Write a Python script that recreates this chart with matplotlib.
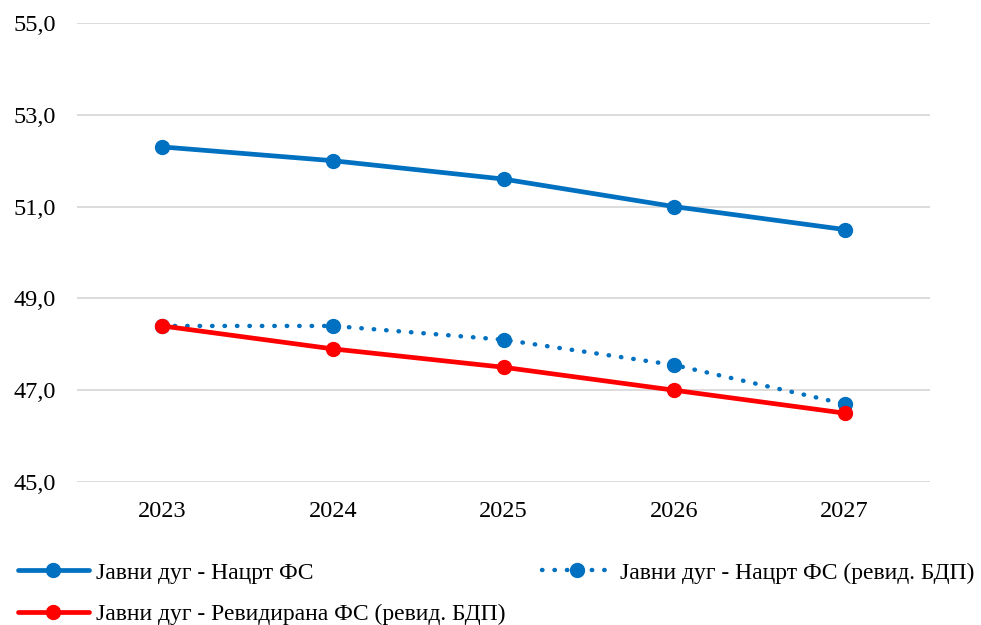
import matplotlib.pyplot as plt
from matplotlib.ticker import FuncFormatter

plt.rcParams['font.family'] = ['Liberation Serif', 'DejaVu Serif']

years = ["2023", "2024", "2025", "2026", "2027"]
debt_draft = [52.3, 52.0, 51.6, 51.0, 50.5]
debt_draft_rev = [48.4, 48.4, 48.1, 47.55, 46.7]
debt_revised = [48.4, 47.9, 47.5, 47.0, 46.5]

labels = [
    "Јавни дуг - Нацрт ФС",
    "Јавни дуг - Нацрт ФС (ревид. БДП)",
    "Јавни дуг - Ревидирана ФС (ревид. БДП)",
]

blue = "#0070C0"
red = "#FF0000"

fig = plt.figure(figsize=(9.81, 6.25), dpi=100)
ax = fig.add_axes([77 / 981, 1 - 482 / 625, 853 / 981, 459 / 625])

x = range(len(years))
l1, = ax.plot(x, debt_draft, color=blue, lw=3.4, marker="o", ms=10,
              solid_capstyle="round", label=labels[0], zorder=3)
l2, = ax.plot(x, debt_draft_rev, color=blue, lw=3.2, marker="o", ms=10,
              linestyle=(0, (0.1, 2.7)), dash_capstyle="round",
              label=labels[1], zorder=3)
l3, = ax.plot(x, debt_revised, color=red, lw=3.4, marker="o", ms=10,
              solid_capstyle="round", label=labels[2], zorder=4)

ax.set_xlim(-0.5, len(years) - 0.5)
ax.set_ylim(45, 55)
ax.set_yticks([45, 47, 49, 51, 53, 55])
ax.yaxis.set_major_formatter(FuncFormatter(lambda v, p: f"{v:.1f}".replace(".", ",")))
ax.set_xticks(list(x))
ax.set_xticklabels(years)
ax.grid(axis="y", color="#D9D9D9", lw=1.3)
ax.set_axisbelow(True)
for s in ax.spines.values():
    s.set_visible(False)
ax.tick_params(length=0, labelsize=17.5, colors="black")
ax.tick_params(axis="y", pad=15)
ax.tick_params(axis="x", pad=14)

fig.legend(handles=[l1, l3, l2], labels=[labels[0], labels[2], labels[1]],
           ncol=2, loc="upper left", bbox_to_anchor=(18 / 981, 1 - 562 / 625),
           frameon=False, fontsize=17, handlelength=3.0, handletextpad=0.3,
           columnspacing=1.55, labelspacing=0.85, borderpad=0, borderaxespad=0)

fig.savefig("out.png", dpi=100)
